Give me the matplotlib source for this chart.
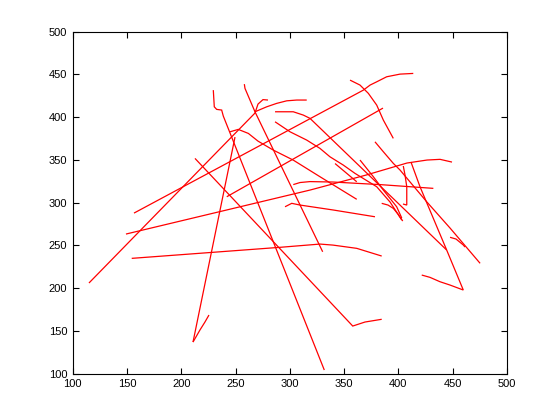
import matplotlib
matplotlib.use("Agg")
import matplotlib.pyplot as plt

# Each track: x values and y values (data coordinates)
track_a_x = [114.9, 267.9, 270.7, 275.3, 279.9]
track_a_y = [206.1, 404.7, 415.2, 420.4, 419.9]

arc_x = [267.9, 278.7, 287.9, 297.2, 306.4, 315.6]
arc_y = [406.2, 412.0, 416.0, 419.0, 419.9, 419.9]

track_b_x = [156.4, 367.8, 374.0, 380.1, 389.3, 401.6, 413.8]
track_b_y = [287.8, 431.5, 437.4, 441.2, 447.1, 450.2, 451.0]

track_m_x = [241.9, 385.9]
track_m_y = [306.9, 410.5]

track_c_x = [149.0, 318.6, 370.2, 408.0, 426.5, 438.5, 449.5]
track_c_y = [263.3, 314.7, 332.2, 346.3, 349.8, 350.6, 347.4]

track_d_x = [154.3, 291.0, 327.8, 339.8, 361.7, 384.7]
track_d_y = [234.9, 247.8, 251.6, 250.4, 246.6, 237.6]

track_e_x = [210.8, 249.5]
track_e_y = [137.1, 376.6]

track_f_x = [210.8, 217.2, 221.8, 225.5]
track_f_y = [137.1, 151.2, 160.5, 168.7]

track_g_x = [229.5, 230.4, 232.6, 237.2, 238.7, 331.8]
track_g_y = [431.5, 412.0, 409.0, 408.2, 401.2, 104.4]

track_h_x = [258.1, 258.7, 267.9, 330.3]
track_h_y = [438.5, 433.5, 406.2, 242.6]

track_i_x = [212.6, 358.0, 369.3, 384.7]
track_i_y = [351.7, 155.8, 160.5, 163.7]

track_j_x = [244.9, 252.5, 261.8, 270.7, 284.8, 303.2, 327.8, 361.7]
track_j_y = [382.8, 385.6, 380.9, 371.9, 361.4, 349.7, 330.3, 303.9]

track_k_x = [286.4, 303.2, 312.5, 318.6, 444.6]
track_k_y = [406.2, 406.2, 402.3, 398.5, 244.6]

track_l_x = [286.4, 300.2, 315.6, 327.8, 337.0, 349.3, 360.1, 380.1, 392.4, 403.2]
track_l_y = [394.5, 382.8, 373.1, 363.4, 353.6, 343.9, 334.2, 318.6, 300.7, 279.7]

track_n_x = [411.7, 420.0, 444.6, 459.9, 447.7, 438.4, 429.2, 421.6]
track_n_y = [347.4, 318.6, 244.6, 197.9, 203.7, 207.6, 212.7, 215.4]

track_p_x = [378.5, 386.2, 395.4, 401.6, 426.2, 447.7, 475.4]
track_p_y = [371.1, 359.5, 345.9, 338.1, 301.0, 270.3, 229.1]

track_q_x = [447.7, 453.2, 459.9, 461.5]
track_q_y = [259.5, 257.5, 250.5, 248.1]

track_r_x = [295.6, 301.8, 309.4, 340.1, 378.5]
track_r_y = [295.2, 299.2, 297.2, 291.4, 283.5]

track_s2_x = [364.7, 377.0, 386.2, 398.5, 403.2]
track_s2_y = [349.8, 330.3, 314.7, 295.2, 282.0]

track_s3_x = [341.7, 352.5, 361.7]
track_s3_y = [345.7, 334.2, 324.4]

track_t_x = [303.2, 309.4, 318.6, 339.8, 383.1, 432.3]
track_t_y = [321.1, 323.5, 324.6, 324.1, 321.1, 316.7]

track_u_x = [384.7, 390.5, 395.4, 399.7, 404.1]
track_u_y = [299.2, 297.2, 293.3, 286.7, 278.5]

track_v_x = [404.6, 406.2, 407.8, 407.8, 404.3]
track_v_y = [342.8, 332.2, 318.6, 297.2, 298.4]

track_w_x = [355.5, 364.7, 372.4, 380.1, 386.2, 395.4]
track_w_y = [443.2, 437.4, 427.7, 414.0, 396.5, 375.1]

tracks = [
    (track_a_x, track_a_y), (arc_x, arc_y), (track_b_x, track_b_y),
    (track_m_x, track_m_y), (track_c_x, track_c_y), (track_d_x, track_d_y),
    (track_e_x, track_e_y), (track_f_x, track_f_y), (track_g_x, track_g_y),
    (track_h_x, track_h_y), (track_i_x, track_i_y), (track_j_x, track_j_y),
    (track_k_x, track_k_y), (track_l_x, track_l_y), (track_n_x, track_n_y),
    (track_p_x, track_p_y), (track_q_x, track_q_y), (track_r_x, track_r_y),
    (track_s2_x, track_s2_y), (track_s3_x, track_s3_y), (track_t_x, track_t_y),
    (track_u_x, track_u_y), (track_v_x, track_v_y), (track_w_x, track_w_y),
]

ticks = [100, 150, 200, 250, 300, 350, 400, 450, 500]

plt.rcParams['font.family'] = ['Liberation Sans', 'DejaVu Sans']
fig = plt.figure(figsize=(5.6, 4.2), dpi=100)
fig.patch.set_facecolor('white')
ax = fig.add_axes([0.13, 0.11, 0.775, 0.815])
for xs, ys in tracks:
    ax.plot(xs, ys, color='#ff0000', linewidth=0.9, antialiased=True,
            solid_joinstyle='miter', solid_capstyle='butt')

ax.set_xlim(100, 500)
ax.set_ylim(100, 500)
ax.set_xticks(ticks)
ax.set_yticks(ticks)
ax.tick_params(direction='in', length=4, width=0.8, top=True, right=True,
               labelsize=8, pad=4)
for s in ax.spines.values():
    s.set_linewidth(0.8)
fig.savefig('out.png', dpi=100, facecolor='white')
